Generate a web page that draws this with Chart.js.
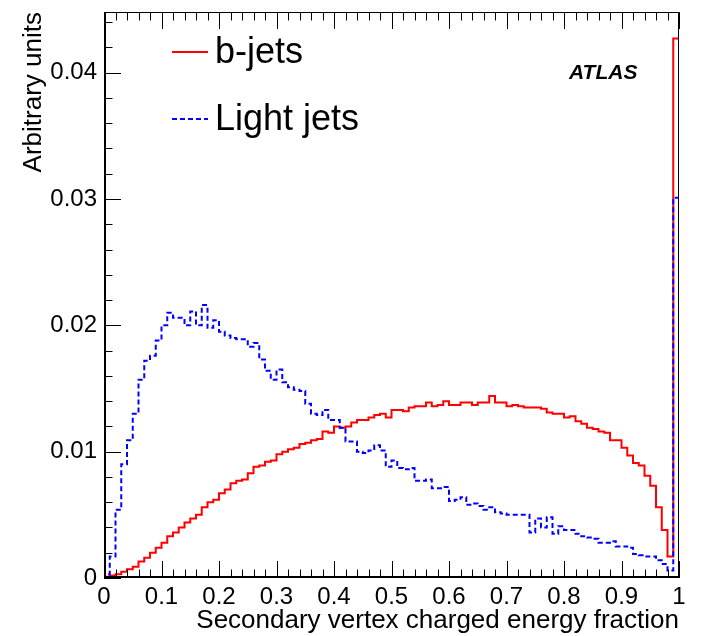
<!DOCTYPE html>
<html>
<head>
<meta charset="utf-8">
<script src="https://cdn.jsdelivr.net/npm/chart.js@4.4.0/dist/chart.umd.min.js"></script>
<style>
  html, body { margin: 0; padding: 0; background: #fff; }
</style>
</head>
<body>
<canvas id="chart" width="706" height="636"></canvas>
<script>
// histogram: 100 bins of width 0.01 over [0, 1]
const binWidth = 0.01;

const bJets = [
  0.0001, 0.0002, 0.0003, 0.0005, 0.0007, 0.0009, 0.0013, 0.0016, 0.0020, 0.0024,
  0.0028, 0.0033, 0.0036, 0.0040, 0.0044, 0.0047, 0.0050, 0.0056, 0.0060, 0.0062,
  0.0067, 0.0070, 0.0075, 0.0077, 0.0078, 0.0083, 0.0088, 0.0089, 0.0092, 0.0093,
  0.0098, 0.0100, 0.0102, 0.0103, 0.0106, 0.0107, 0.0109, 0.0110, 0.0116, 0.0115,
  0.0120, 0.0119, 0.0120, 0.0123, 0.0125, 0.0125, 0.0127, 0.0129, 0.0130, 0.0127,
  0.0133, 0.0133, 0.0132, 0.0135, 0.0136, 0.0136, 0.0139, 0.0136, 0.0137, 0.0140,
  0.0137, 0.0137, 0.0139, 0.0139, 0.0137, 0.0139, 0.0139, 0.0144, 0.0139, 0.0139,
  0.0136, 0.0137, 0.0136, 0.0135, 0.0135, 0.0135, 0.0134, 0.0131, 0.0130, 0.0130,
  0.0127, 0.0128, 0.0124, 0.0122, 0.0119, 0.0118, 0.0116, 0.0115, 0.0109, 0.0109,
  0.0103, 0.0097, 0.0091, 0.0089, 0.0081, 0.0073, 0.0056, 0.0038, 0.0017, 0.0427
];

const lightJets = [
  0.0003, 0.0017, 0.0054, 0.0090, 0.0109, 0.0130, 0.0157, 0.0172, 0.0176, 0.0188,
  0.0200, 0.0210, 0.0206, 0.0206, 0.0200, 0.0211, 0.0200, 0.0216, 0.0198, 0.0204,
  0.0195, 0.0192, 0.0190, 0.0189, 0.0189, 0.0183, 0.0186, 0.0173, 0.0164, 0.0157,
  0.0165, 0.0155, 0.0151, 0.0149, 0.0148, 0.0138, 0.0130, 0.0129, 0.0133, 0.0125,
  0.0125, 0.0119, 0.0108, 0.0108, 0.0100, 0.0099, 0.0101, 0.0105, 0.0101, 0.0088,
  0.0093, 0.0087, 0.0086, 0.0087, 0.0077, 0.0077, 0.0078, 0.0071, 0.0071, 0.0072,
  0.0061, 0.0062, 0.0064, 0.0058, 0.0059, 0.0057, 0.0054, 0.0056, 0.0052, 0.0051,
  0.0050, 0.0050, 0.0050, 0.0050, 0.0036, 0.0047, 0.0040, 0.0048, 0.0035, 0.0041,
  0.0038, 0.0038, 0.0035, 0.0033, 0.0032, 0.0031, 0.0028, 0.0028, 0.0029, 0.0025,
  0.0025, 0.0024, 0.0019, 0.0018, 0.0017, 0.0017, 0.0014, 0.0011, 0.0006, 0.0301
];

const xTickLabels = ["0", "0.1", "0.2", "0.3", "0.4", "0.5", "0.6", "0.7", "0.8", "0.9", "1"];
const yTickLabels = ["0", "0.01", "0.02", "0.03", "0.04"];
const seriesNames = ["b-jets", "Light jets"];

const FONT = "'Liberation Sans', Arial, Helvetica, sans-serif";
const yMax = 0.0448;

// step outline like a ROOT histogram: rise at 0, drop at 1
function histPoints(vals) {
  const pts = [{ x: 0, y: 0 }];
  vals.forEach((v, i) => pts.push({ x: +(i * binWidth).toFixed(2), y: v }));
  pts.push({ x: 1, y: vals[vals.length - 1] });
  pts.push({ x: 1, y: 0 });
  return pts;
}

// frame, inward ticks, legend and label
const rootDecor = {
  id: "rootDecor",
  afterDraw(chart) {
    const ctx = chart.ctx;
    const a = chart.chartArea;
    const xs = chart.scales.x;
    const ys = chart.scales.y;
    ctx.save();
    ctx.strokeStyle = "#000";
    ctx.lineWidth = 1;
    ctx.beginPath();
    ctx.moveTo(a.left, a.top + 0.5); ctx.lineTo(a.right - 0.5, a.top + 0.5); ctx.lineTo(a.right - 0.5, a.bottom);
    ctx.stroke();
    ctx.lineWidth = 2;
    ctx.beginPath();
    ctx.moveTo(a.left + 1, a.top); ctx.lineTo(a.left + 1, a.bottom - 1); ctx.lineTo(a.right, a.bottom - 1);
    ctx.stroke();

    ctx.lineWidth = 1;
    ctx.beginPath();
    for (let k = 0; k <= 50; k++) {
      const px = Math.round(xs.getPixelForValue(k * 0.02)) + 0.5;
      const len = k % 5 === 0 ? 17 : 8.5;
      ctx.moveTo(px, a.bottom); ctx.lineTo(px, a.bottom - len);
      ctx.moveTo(px, a.top); ctx.lineTo(px, a.top + len);
    }
    for (let k = 0; k * 0.002 <= yMax; k++) {
      const py = Math.round(ys.getPixelForValue(k * 0.002)) + 0.5;
      const len = k % 5 === 0 ? 17 : 8.5;
      ctx.moveTo(a.left, py); ctx.lineTo(a.left + len, py);
    }
    ctx.stroke();

    // legend
    ctx.font = "36px " + FONT;
    ctx.textBaseline = "middle";
    ctx.fillStyle = "#000";
    ctx.lineWidth = 2;
    ctx.strokeStyle = "#ff0000";
    ctx.setLineDash([]);
    ctx.beginPath(); ctx.moveTo(172, 52); ctx.lineTo(208, 52); ctx.stroke();
    ctx.fillText(seriesNames[0], 215, 53);
    ctx.strokeStyle = "#0000ff";
    ctx.setLineDash([5, 3]);
    ctx.beginPath(); ctx.moveTo(172, 119); ctx.lineTo(208, 119); ctx.stroke();
    ctx.setLineDash([]);
    ctx.fillText(seriesNames[1], 215, 120);

    ctx.font = "italic bold 21px " + FONT;
    ctx.fillText("ATLAS", 569, 73);
    ctx.restore();
  }
};

new Chart(document.getElementById("chart"), {
  type: "line",
  data: {
    datasets: [
      {
        label: seriesNames[1],
        data: histPoints(lightJets),
        borderColor: "#0000ff",
        borderWidth: 2,
        borderDash: [5, 3],
        stepped: "before",
        pointRadius: 0,
        fill: false,
        order: 0
      },
      {
        label: seriesNames[0],
        data: histPoints(bJets),
        borderColor: "#ff0000",
        borderWidth: 2,
        stepped: "before",
        pointRadius: 0,
        fill: false,
        order: 1
      }
    ]
  },
  options: {
    responsive: false,
    animation: false,
    devicePixelRatio: 1,
    layout: { padding: { left: 0, right: 27, top: 12, bottom: 0 } },
    plugins: { legend: { display: false }, tooltip: { enabled: false } },
    scales: {
      x: {
        type: "linear",
        min: 0,
        max: 1,
        grid: { display: false, drawTicks: false },
        border: { display: false },
        ticks: {
          stepSize: 0.1,
          autoSkip: false,
          maxRotation: 0,
          padding: 5,
          color: "#000",
          font: { family: FONT, size: 24 },
          callback: (v, i) => xTickLabels[i]
        },
        title: {
          display: true,
          text: "Secondary vertex charged energy fraction",
          align: "end",
          color: "#000",
          padding: 0,
          font: { family: FONT, size: 26 }
        },
        afterFit: (s) => { s.height = 58; s.paddingLeft = 0; s.paddingRight = 0; }
      },
      y: {
        min: 0,
        max: yMax,
        grid: { display: false, drawTicks: false },
        border: { display: false },
        ticks: {
          stepSize: 0.01,
          includeBounds: false,
          padding: 7,
          color: "#000",
          font: { family: FONT, size: 24 },
          callback: (v, i) => yTickLabels[i]
        },
        title: {
          display: true,
          text: "Arbitrary units",
          align: "end",
          color: "#000",
          padding: { top: 18, bottom: 0 },
          font: { family: FONT, size: 26 }
        },
        afterFit: (s) => { s.width = 104; s.paddingTop = 0; s.paddingBottom = 0; }
      }
    }
  },
  plugins: [rootDecor]
});
</script>
</body>
</html>
